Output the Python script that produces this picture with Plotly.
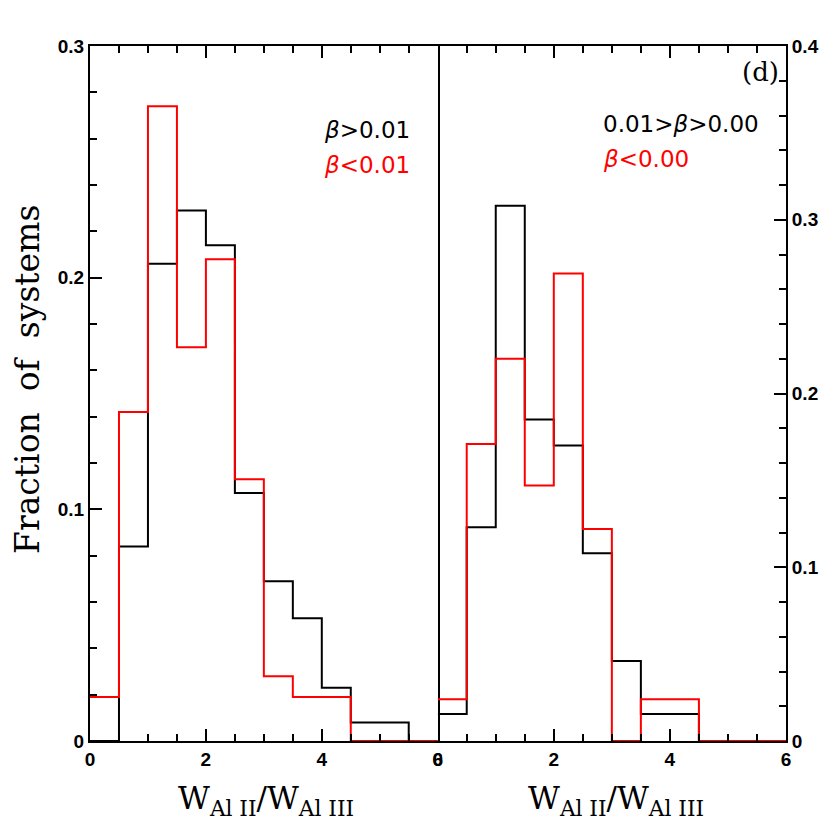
import plotly.graph_objects as go

# bin edges shared by both panels
bin_edges = [0, 0.5, 1, 1.5, 2, 2.5, 3, 3.5, 4, 4.5, 5, 5.5, 6]

# left panel: beta > 0.01 (black), beta < 0.01 (red)
left_high = [0.0, 0.084, 0.206, 0.229, 0.214, 0.107, 0.069, 0.053, 0.023, 0.008, 0.008, 0.0]
left_low = [0.019, 0.142, 0.274, 0.170, 0.208, 0.113, 0.028, 0.019, 0.019, 0.0, 0.0, 0.0]

# right panel: 0.01 > beta > 0.00 (black), beta < 0.00 (red)
right_mid = [0.0155, 0.123, 0.308, 0.185, 0.170, 0.108, 0.046, 0.0155, 0.0155, 0.0, 0.0, 0.0]
right_neg = [0.024, 0.171, 0.220, 0.147, 0.269, 0.122, 0.0, 0.024, 0.024, 0.0, 0.0, 0.0]

RED = "#ff0000"
TICKFONT = dict(family="Liberation Sans", size=19, color="black", weight="bold")

# the page body has an 8px margin, so the figure is a bit smaller and
# positions are given in window pixels and converted here
OFF = 8
SIZE = 830 - OFF


def px_x(p):
    return (p - OFF) / SIZE


def px_y(p):
    return 1 - (p - OFF) / SIZE


def step(vals, color, xa, ya):
    return go.Scatter(
        x=bin_edges,
        y=vals + [vals[-1]],
        mode="lines",
        line=dict(color=color, width=2, shape="hv"),
        xaxis=xa,
        yaxis=ya,
        showlegend=False,
        hoverinfo="skip",
    )


fig = go.Figure()
fig.add_trace(step(left_high, "black", "x", "y"))
fig.add_trace(step(left_low, RED, "x", "y"))
fig.add_trace(step(right_mid, "black", "x2", "y2"))
fig.add_trace(step(right_neg, RED, "x2", "y2"))

x_common = dict(
    range=[0, 6],
    tickmode="linear",
    tick0=0,
    dtick=2,
    ticks="inside",
    ticklen=12,
    tickwidth=2,
    tickcolor="black",
    minor=dict(dtick=0.5, ticks="inside", ticklen=7, tickwidth=2, tickcolor="black"),
    showline=True,
    linecolor="black",
    linewidth=2,
    mirror="ticks",
    showgrid=False,
    zeroline=False,
    automargin=False,
    tickfont=TICKFONT,
)
y_common = dict(
    tickmode="linear",
    tick0=0,
    dtick=0.1,
    ticks="inside",
    ticklen=12,
    tickwidth=2,
    tickcolor="black",
    minor=dict(dtick=0.02, ticks="inside", ticklen=7, tickwidth=2, tickcolor="black"),
    showline=True,
    linecolor="black",
    linewidth=2,
    showgrid=False,
    zeroline=False,
    automargin=False,
    tickfont=TICKFONT,
)

fig.update_layout(
    template="none",
    width=SIZE,
    height=SIZE,
    margin=dict(l=0, r=0, t=0, b=0),
    plot_bgcolor="white",
    paper_bgcolor="white",
    xaxis=dict(domain=[px_x(90), px_x(437.7)], anchor="y", **x_common),
    xaxis2=dict(domain=[px_x(437.7), px_x(786)], anchor="y2", **x_common),
    # left panel draws the shared middle border; right panel only its own right edge
    yaxis=dict(domain=[px_y(741), px_y(46)], anchor="x", range=[0, 0.3],
               mirror=True, **y_common),
    yaxis2=dict(domain=[px_y(741), px_y(46)], anchor="x2", side="right",
                range=[0, 0.4], mirror=False, **y_common),
)

serif = "DejaVu Serif"
sans = "DejaVu Sans"

# axis titles
for xc in [266, 616]:
    fig.add_annotation(
        x=px_x(xc), y=px_y(800), xref="paper", yref="paper",
        text="W<sub>Al II</sub>/W<sub>Al III</sub>",
        showarrow=False, font=dict(family=serif, size=31, color="black"),
        xanchor="center", yanchor="middle",
    )

fig.add_annotation(
    x=px_x(27), y=px_y(380), xref="paper", yref="paper",
    text="Fraction&nbsp; of&nbsp; systems", textangle=-90,
    showarrow=False, font=dict(family=serif, size=33, color="black"),
    xanchor="center", yanchor="middle",
)

# panel labels
labels = [
    (322, 130, "<i>β</i>>0.01", "black"),
    (322, 165, "<i>β</i><0.01", RED),
    (601, 124, "0.01><i>β</i>>0.00", "black"),
    (601, 159, "<i>β</i><0.00", RED),
]
for lx, ly, txt, col in labels:
    fig.add_annotation(
        x=px_x(lx), y=px_y(ly), xref="paper", yref="paper",
        text=txt, showarrow=False, font=dict(family=sans, size=23, color=col),
        xanchor="left", yanchor="middle",
    )

fig.add_annotation(
    x=px_x(781), y=px_y(72), xref="paper", yref="paper",
    text="(d)", showarrow=False, font=dict(family=serif, size=26, color="black"),
    xanchor="right", yanchor="middle",
)

fig.write_html("out.html")
